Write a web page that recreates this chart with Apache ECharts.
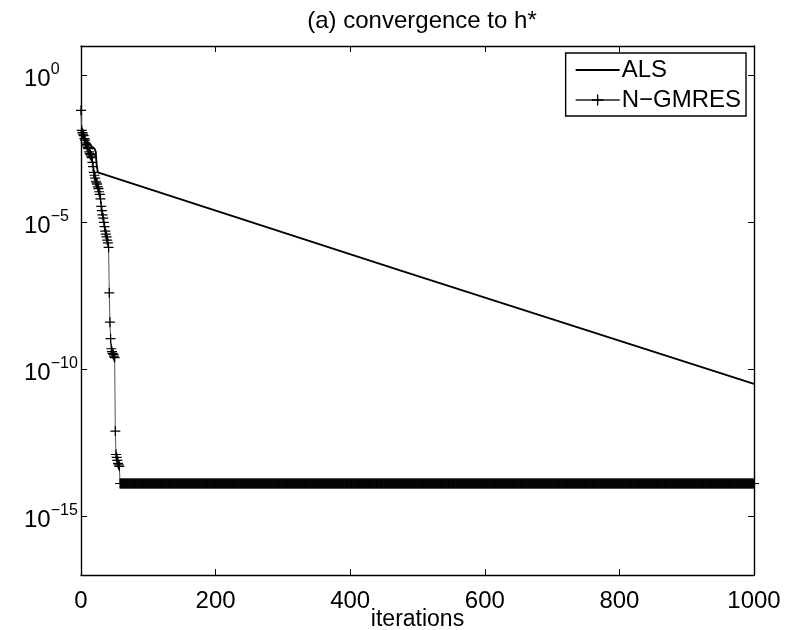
<!DOCTYPE html>
<html>
<head>
<meta charset="utf-8">
<script src="https://cdn.jsdelivr.net/npm/echarts@6/dist/echarts.min.js"></script>
<style>
html,body{margin:0;padding:0;background:#fff;}
#chart{width:788px;height:630px;}
</style>
</head>
<body>
<div id="chart"></div>
<script>
// ---- data ----
const titleText = '(a) convergence to h*';
const xName = 'iterations';
const xTicks = [0, 200, 400, 600, 800, 1000];
const yTicks = [1e-15, 1e-10, 1e-5, 1];

// ALS: [iteration, value]
const alsIter = [0, 5, 10, 15, 20, 22, 23, 25, 474, 1000];
const alsVal  = [1.35e-2, 7.9e-3, 5.6e-3, 4.0e-3, 3.2e-3, 2.5e-3, 1.0e-3, 5.0e-4, 2.3e-7, 3.2e-11];

// N-GMRES: values for iterations 0..57, then flat at machine precision up to 1000
const ngmresHead = [
  6.5e-2, 1.35e-2, 1.12e-2, 1.0e-2, 8.9e-3, 7.1e-3, 6.3e-3, 5.0e-3, 4.5e-3, 4.0e-3,
  3.5e-3, 3.2e-3, 2.5e-3, 2.2e-3, 2.0e-3, 1.8e-3, 1.6e-3, 1.1e-3, 7.9e-4, 5.0e-4,
  4.0e-4, 3.2e-4, 2.5e-4, 2.2e-4, 2.0e-4, 1.6e-4, 1.4e-4, 1.1e-4, 8.9e-5, 6.3e-5,
  3.5e-5, 2.5e-5, 1.8e-5, 1.4e-5, 1.0e-5, 7.1e-6, 5.0e-6, 4.0e-6, 3.2e-6, 2.5e-6,
  2.0e-6, 1.4e-6, 4.0e-8, 4.0e-9, 1.1e-9, 5.0e-10, 4.0e-10, 3.5e-10, 3.2e-10, 2.8e-10,
  2.5e-10, 7.9e-13, 1.26e-13, 1.0e-13, 7.9e-14, 6.3e-14, 5.6e-14, 5.0e-14
];
const ngmresTailValue = 1.3e-14;
const ngmresLastIter = 1000;

// ---- build ----
const alsData = alsIter.map((x, i) => [x, alsVal[i]]);
const ngmresData = ngmresHead.map((v, i) => [i, v]);
for (let i = ngmresHead.length; i <= ngmresLastIter; i++) ngmresData.push([i, ngmresTailValue]);

const FONT = 'Liberation Sans';
const plusPath = 'path://M0,4.4H10V5.6H0Z M4.4,0H5.6V10H4.4Z';

const chart = echarts.init(document.getElementById('chart'), null, {renderer: 'canvas'});
const yFmt = v => {
  const e = Math.round(Math.log10(v));
  return '{b|10}{s|' + (e < 0 ? '\u2212' + (-e) : String(e)) + '}';
};
const xAxisBase = {
  type: 'value', min: 0, max: 1000,
  axisLine: {show: true, onZero: false, lineStyle: {color: '#000', width: 1.4}},
  axisTick: {show: true, inside: true, length: 6, lineStyle: {color: '#000'}, customValues: xTicks},
  splitLine: {show: false}
};
const yAxisBase = {
  type: 'log', logBase: 10, min: 1e-17, max: 10,
  axisLine: {show: true, onZero: false, lineStyle: {color: '#000', width: 1.4}},
  axisTick: {show: true, inside: true, length: 6, lineStyle: {color: '#000'}, customValues: yTicks},
  splitLine: {show: false}, minorTick: {show: false}
};
chart.setOption({
  animation: false,
  backgroundColor: '#fff',
  title: {
    text: titleText, left: 417, top: 4, textAlign: 'center',
    textStyle: {fontFamily: FONT, fontSize: 24, fontWeight: 'normal', color: '#000'}
  },
  grid: {left: 81, right: 34, top: 46, bottom: 55, containLabel: false, outerBoundsMode: 'none'},
  legend: {
    orient: 'vertical', right: 42, top: 53,
    backgroundColor: '#fff', borderColor: '#000', borderWidth: 1.4,
    padding: [5, 5, 4, 9], itemGap: 6, itemWidth: 44, itemHeight: 14,
    textStyle: {fontFamily: FONT, fontSize: 24, color: '#000', padding: [0, 0, 0, -3]},
    data: [{name: 'ALS', itemStyle: {opacity: 0}}, {name: 'N\u2212GMRES'}]
  },
  xAxis: [
    Object.assign({}, xAxisBase, {
      position: 'bottom',
      axisLabel: {show: true, customValues: xTicks, formatter: v => String(v), fontFamily: FONT, fontSize: 24, color: '#000', margin: 14},
      name: xName, nameLocation: 'middle', nameGap: 33, nameMoveOverlap: false,
      nameTextStyle: {fontFamily: FONT, fontSize: 23, color: '#000', verticalAlign: 'top'}
    }),
    Object.assign({}, xAxisBase, {position: 'top', axisLabel: {show: false}})
  ],
  yAxis: [
    Object.assign({}, yAxisBase, {
      position: 'left',
      axisLabel: {
        show: true, customValues: yTicks, margin: 57, align: 'left', formatter: yFmt,
        rich: {
          b: {fontFamily: FONT, fontSize: 24, color: '#000', lineHeight: 32, verticalAlign: 'bottom'},
          s: {fontFamily: FONT, fontSize: 16, color: '#000', lineHeight: 32, verticalAlign: 'top', padding: [2, 0, 0, 0]}
        }
      }
    }),
    Object.assign({}, yAxisBase, {position: 'right', axisLabel: {show: false}})
  ],
  series: [
    {
      name: 'ALS', type: 'line', data: alsData,
      showSymbol: false, symbol: 'none',
      lineStyle: {color: '#000', width: 1.8},
      itemStyle: {color: '#000'}
    },
    {
      name: 'N\u2212GMRES', type: 'line', data: ngmresData,
      symbol: plusPath, symbolSize: 10, showSymbol: true, showAllSymbol: true,
      lineStyle: {color: '#555', width: 1},
      itemStyle: {color: '#000'}
    }
  ]
});
</script>
</body>
</html>
